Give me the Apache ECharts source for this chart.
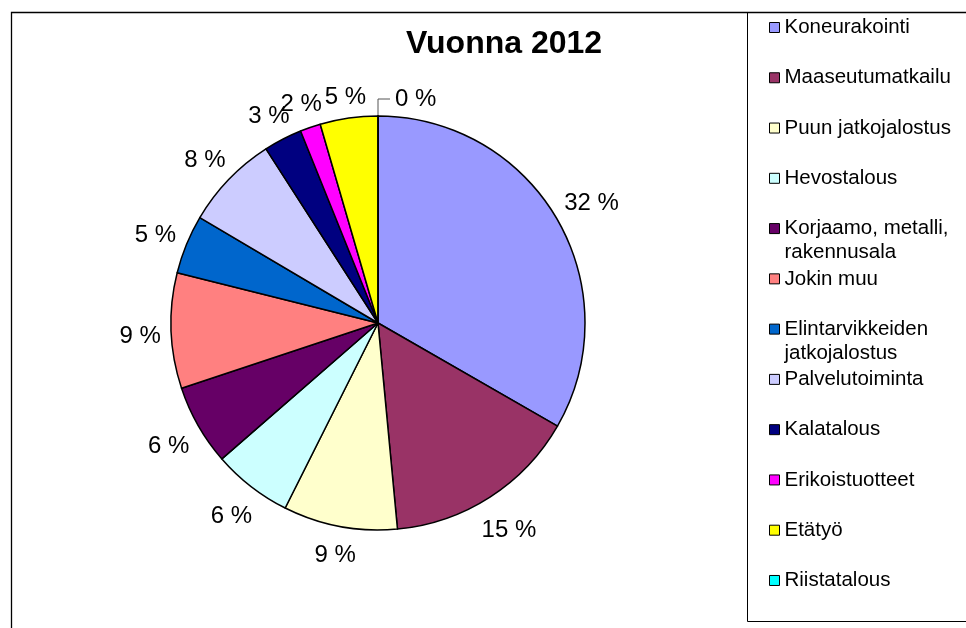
<!DOCTYPE html>
<html style="width:100%;height:100%;">
<head>
<meta charset="UTF-8">
<title>Vuonna 2012</title>
<script src="https://cdn.jsdelivr.net/npm/echarts@6/dist/echarts.min.js"></script>
</head>
<body style="width:100%;height:100%;margin:0;padding:0;background:#fff;">
<div id="chart" style="width:966px;height:628px;"></div>
<script>
// toimialat (legendin järjestys = sektorien järjestys myötäpäivään ylhäältä)
var categories = ['Koneurakointi', 'Maaseutumatkailu', 'Puun jatkojalostus', 'Hevostalous',
	'Korjaamo, metalli, rakennusala', 'Jokin muu', 'Elintarvikkeiden jatkojalostus',
	'Palvelutoiminta', 'Kalatalous', 'Erikoistuotteet', 'Etätyö', 'Riistatalous'];
// sektorien osuudet kuvasta mitattuna
var shares = [33.3, 15.2, 8.9, 6.2, 6.3, 9.0, 4.6, 7.4, 3.0, 1.6, 4.5, 0];
// kuvassa näkyvät prosenttiluvut
var shownPercent = [32, 15, 9, 6, 6, 9, 5, 8, 3, 2, 5, 0];
var colors = ['#9999FF', '#993366', '#FFFFCC', '#CCFFFF', '#660066', '#FF8080',
	'#0066CC', '#CCCCFF', '#000080', '#FF00FF', '#FFFF00', '#00FFFF'];

var FONT = 'Liberation Sans, Arial, sans-serif';
var CX = 378, CY = 323, R = 207;

// sektorien keskikulmat (rad, ylhäältä myötäpäivään)
var total = 0;
shares.forEach(function (v) { total += v; });
var midAngles = [];
var acc = 0;
shares.forEach(function (v) {
	midAngles.push((acc + v / 2) / total * Math.PI * 2);
	acc += v;
});

var pieData = categories.map(function (name, i) {
	var item = { name: name, value: shares[i], itemStyle: { color: colors[i] } };
	if (shares[i] === 0) {
		item.labelLine = { show: true, lineStyle: { color: '#555', width: 1 } };
	}
	return item;
});

// legendin rivitys kuten alkuperäisessä: toinen rivi ei kasvata riviväliä
var wrapAt = { 'Korjaamo, metalli, rakennusala': 18, 'Elintarvikkeiden jatkojalostus': 16 };
function wrapName(name) {
	var k = wrapAt[name];
	if (!k) return name;
	return '{a|' + name.slice(0, k) + '}\n{b|' + name.slice(k + 1) + '}';
}

var legendText = { fontFamily: FONT, fontSize: 20.5, color: '#000' };
var legends = categories.map(function (name, i) {
	return {
		orient: 'vertical',
		left: 769,
		top: 15.5 + i * 50.27,
		padding: 0,
		itemWidth: 10,
		itemHeight: 10,
		icon: 'rect',
		selectedMode: false,
		itemStyle: { borderColor: '#000', borderWidth: 1 },
		formatter: wrapName,
		textStyle: {
			fontFamily: FONT, fontSize: 20.5, color: '#000', lineHeight: 24,
			rich: {
				a: { fontFamily: FONT, fontSize: 20.5, color: '#000', lineHeight: 24 },
				b: { fontFamily: FONT, fontSize: 20.5, color: '#000', lineHeight: 0, height: 24, verticalAlign: 'top' }
			}
		},
		data: [name]
	};
});

var myChart = echarts.init(document.getElementById('chart'));
var option = {
	animation: false,
	title: {
		text: 'Vuonna 2012',
		left: 504,
		top: 28,
		textAlign: 'center',
		padding: 0,
		textStyle: { fontFamily: FONT, fontSize: 32, fontWeight: 'bold', color: '#000' }
	},
	legend: legends,
	graphic: [{
		type: 'rect',
		silent: true,
		z: -1,
		shape: { x: 11.5, y: 12.5, width: 1100, height: 800 },
		style: { fill: 'none', stroke: '#000', lineWidth: 1.3 }
	}, {
		type: 'rect',
		silent: true,
		z: -1,
		shape: { x: 747.5, y: 12.5, width: 400, height: 609 },
		style: { fill: 'none', stroke: '#000', lineWidth: 1 }
	}],
	series: [{
		type: 'pie',
		center: [CX, CY],
		radius: R,
		startAngle: 90,
		clockwise: true,
		avoidLabelOverlap: false,
		itemStyle: { borderColor: '#000', borderWidth: 1.5 },
		label: {
			show: true,
			position: 'outside',
			fontFamily: FONT,
			fontSize: 24,
			color: '#000',
			formatter: function (p) { return shownPercent[p.dataIndex] + ' %'; }
		},
		labelLine: { show: false },
		labelLayout: function (p) {
			var i = p.dataIndex;
			var sx = Math.sin(midAngles[i]), sy = -Math.cos(midAngles[i]);
			if (shares[i] === 0) {
				var x0 = CX + R * sx, y0 = CY + R * sy;
				return {
					x: x0 + 17, y: y0 - 17, align: 'left', verticalAlign: 'middle',
					labelLinePoints: [[x0, y0], [x0, y0 - 17], [x0 + 12, y0 - 17]]
				};
			}
			var ext = Math.abs(sx) * p.labelRect.width / 2 + Math.abs(sy) * p.labelRect.height / 2;
			var d = R + 10 + ext;
			return { x: CX + d * sx, y: CY + d * sy + 4, align: 'center', verticalAlign: 'middle' };
		},
		data: pieData
	}]
};
myChart.setOption(option);
</script>
</body>
</html>
